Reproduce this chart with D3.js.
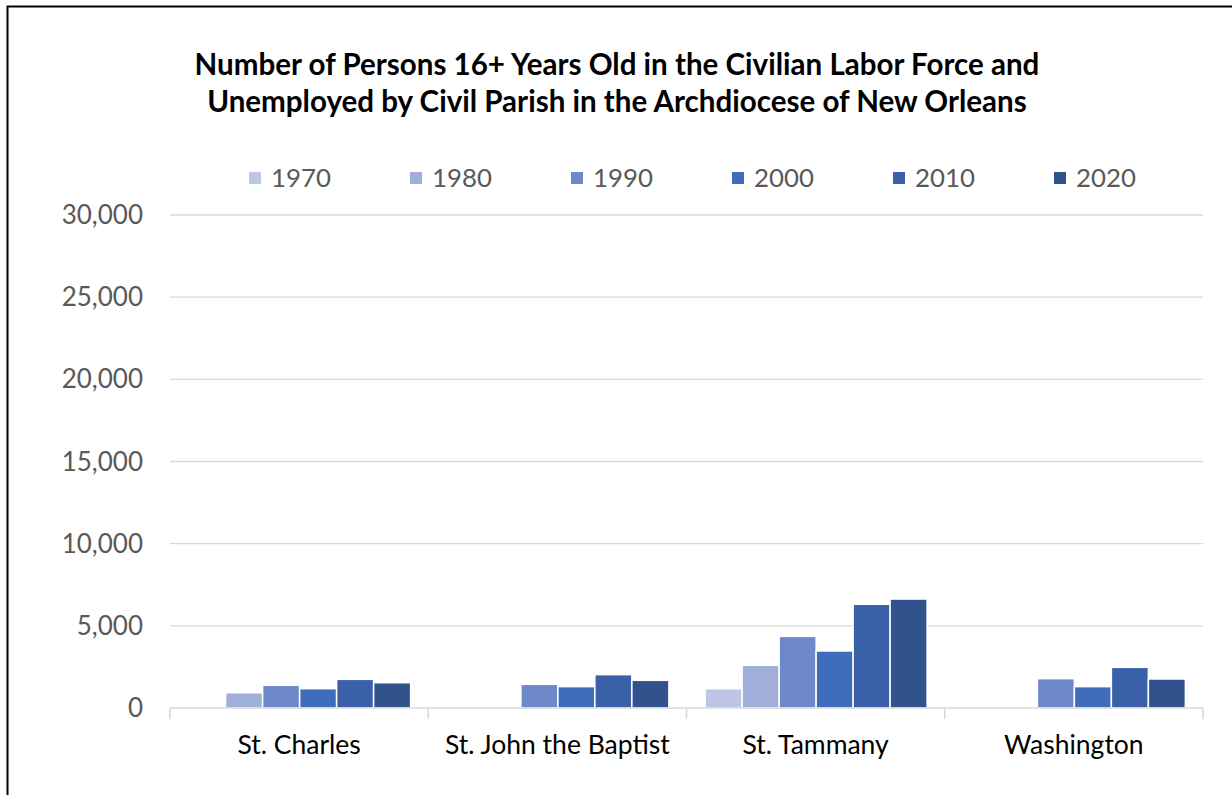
<!DOCTYPE html>
<html><head><meta charset="utf-8">
<script src="https://cdn.jsdelivr.net/npm/d3@7"></script>
<style>body{margin:0;background:#fff}svg{display:block}</style>
</head><body>
<svg id="c" width="1232" height="795"></svg>
<script>
const categories = ["St. Charles", "St. John the Baptist", "St. Tammany", "Washington"];
const years = ["1970", "1980", "1990", "2000", "2010", "2020"];
const v1970 = [null, null, 1175, null];
const v1980 = [930, null, 2600, null];
const v1990 = [1380, 1440, 4360, 1785];
const v2000 = [1175, 1300, 3470, 1300];
const v2010 = [1745, 2030, 6310, 2475];
const v2020 = [1540, 1685, 6630, 1765];
const series = [v1970, v1980, v1990, v2000, v2010, v2020];
const colors = ["#BDC7E5", "#A0AFDA", "#6E89CA", "#3F6DBB", "#3A61A8", "#30538E"];
const yTicks = [0, 5000, 10000, 15000, 20000, 25000, 30000];
const titleLines = ["Number of Persons 16+ Years Old in the Civilian Labor Force and",
  "Unemployed by Civil Parish in the Archdiocese of New Orleans"];

const svg = d3.select("#c");
const font = "Lato, 'Open Sans', sans-serif";
svg.append("rect").attr("x", 7.5).attr("y", 6.5).attr("width", 1240).attr("height", 800)
  .attr("fill", "#fff").attr("stroke", "#000").attr("stroke-width", 2);

const L = 170, R = 1203, T = 215, B = 708;
const y = d3.scaleLinear().domain([0, 30000]).range([B, T]);
const x0 = d3.scaleBand().domain(categories).range([L, R]);
const x1 = d3.scaleBand().domain(years).range([0, x0.bandwidth()]).paddingOuter(0.49).paddingInner(0);

// gridlines
svg.append("g").selectAll("line").data(yTicks.slice(1)).join("line")
  .attr("x1", L).attr("x2", R).attr("y1", d => y(d)).attr("y2", d => y(d))
  .attr("stroke", "#D9D9D9").attr("stroke-width", 1.3);

// y labels
svg.append("g").selectAll("text").data(yTicks).join("text")
  .attr("x", 143).attr("y", d => y(d)).attr("dy", "0.35em").attr("text-anchor", "end")
  .attr("font-family", font).attr("font-size", 26).attr("fill", "#595959")
  .text(d => d3.format(",")(d));

// bars
const g = svg.append("g");
series.forEach((s, si) => {
  g.append("g").selectAll("rect").data(categories.map((c, i) => ({c, v: s[i]})).filter(d => d.v != null))
    .join("rect")
    .attr("x", d => x0(d.c) + x1(years[si]) + 0.5)
    .attr("y", d => y(d.v))
    .attr("width", x1.bandwidth())
    .attr("height", d => B - y(d.v))
    .attr("fill", colors[si]).attr("stroke", "#fff").attr("stroke-width", 1.5);
});

// x axis
svg.append("line").attr("x1", L).attr("x2", R).attr("y1", B).attr("y2", B).attr("stroke", "#D9D9D9").attr("stroke-width", 1.5);
const bounds = categories.map(c => x0(c)).concat([R]);
svg.append("g").selectAll("line").data(bounds).join("line")
  .attr("x1", d => d).attr("x2", d => d).attr("y1", B).attr("y2", B + 11)
  .attr("stroke", "#D9D9D9").attr("stroke-width", 1.5);
svg.append("g").selectAll("text").data(categories).join("text")
  .attr("x", d => x0(d) + x0.bandwidth() / 2).attr("y", 754).attr("text-anchor", "middle")
  .attr("font-family", font).attr("font-size", 26.5).attr("fill", "#000").text(d => d);

// title
const tt = svg.append("g");
const tFs = 26;
titleLines.forEach((t, i) => {
  tt.append("text").attr("x", 617).attr("y", 75 + i * 37).attr("text-anchor", "middle")
    .attr("font-family", font).attr("font-weight", "bold").attr("font-size", tFs).attr("fill", "#000").text(t);
});
const w0 = tt.select("text").node().getComputedTextLength();
tt.selectAll("text").attr("font-size", tFs * 845 / w0);

// legend
const legX = [249, 410, 571, 732, 893, 1054];
const lg = svg.append("g");
years.forEach((yr, i) => {
  lg.append("rect").attr("x", legX[i]).attr("y", 172).attr("width", 12).attr("height", 12).attr("fill", colors[i]);
  lg.append("text").attr("x", legX[i] + 22).attr("y", 178).attr("dy", "0.35em")
    .attr("font-family", font).attr("font-size", 25.8).attr("fill", "#595959").text(yr);
});
</script>
</body></html>
